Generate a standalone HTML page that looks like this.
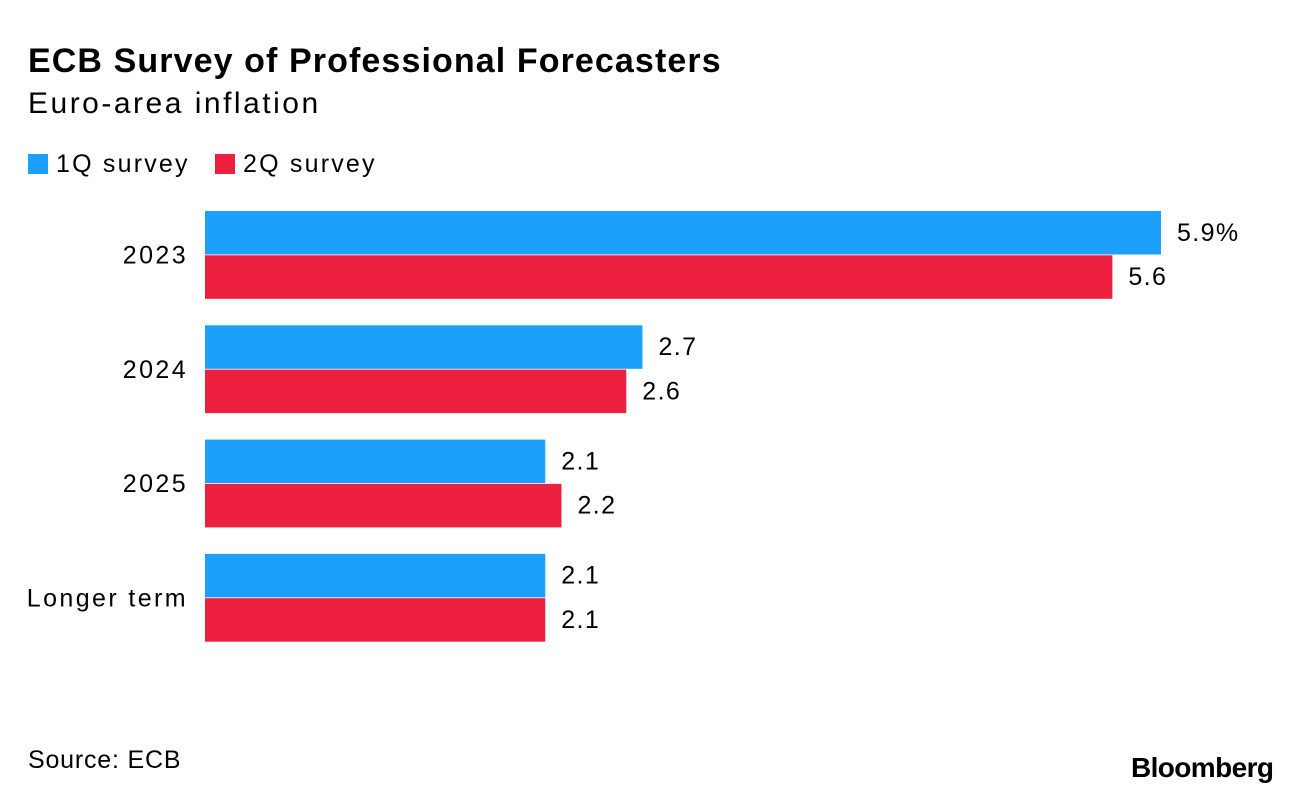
<!DOCTYPE html>
<html><head><meta charset="utf-8"><style>
body{margin:0;background:#fff;font-family:"Liberation Sans",Arial,sans-serif;}
#wrap{position:relative;width:1296px;height:800px;overflow:hidden;}
.t{position:absolute;white-space:nowrap;color:#000;}
</style></head><body>
<div id="wrap">
<div class="t" style="left:28px;top:42px;font-size:34px;font-weight:bold;letter-spacing:1.1px">ECB Survey of Professional Forecasters</div>
<div class="t" style="left:28px;top:87px;font-size:30px;letter-spacing:2.5px">Euro-area inflation</div>
<div class="t" style="left:28px;top:150px;font-size:25px;letter-spacing:2.2px"><span style="display:inline-block;width:20px;height:20px;background:#1da0fb;vertical-align:-2px;margin-right:8px"></span>1Q survey</div>
<div class="t" style="left:215px;top:150px;font-size:25px;letter-spacing:2.2px"><span style="display:inline-block;width:20px;height:20px;background:#ee203f;vertical-align:-2px;margin-right:8px"></span>2Q survey</div>
<svg id="plot" width="1296" height="800" style="position:absolute;left:0;top:0"></svg>
<div class="t" style="left:28px;top:746px;font-size:25px;letter-spacing:0.8px">Source: ECB</div>
<div class="t" style="left:1131px;top:752px;font-size:28px;font-weight:bold;letter-spacing:-0.6px">Bloomberg</div>
</div>
<script>
const categories=["2023","2024","2025","Longer term"];
const q1Values=[5.9,2.7,2.1,2.1];
const q2Values=[5.6,2.6,2.2,2.1];
const valueLabelsQ1=["5.9%","2.7","2.1","2.1"];
const valueLabelsQ2=["5.6","2.6","2.2","2.1"];
const svg=document.getElementById('plot');
const NS='http://www.w3.org/2000/svg';
const x0=205,scale=162.03;
function xPos(v){return x0+v*scale;}
function yPos(i){return 211+i*114.3;}
const barH=43.5;
categories.forEach((c,i)=>{
  const y=yPos(i);
  const lab=document.createElementNS(NS,'text');
  
  
  lab.setAttribute('x',188);lab.setAttribute('y',y+barH+9);
  lab.setAttribute('text-anchor','end');lab.setAttribute('font-size','25');
  lab.setAttribute('letter-spacing','2.4');
  lab.textContent=c;svg.appendChild(lab);
  [[q1Values,valueLabelsQ1,'#1da0fb',0],[q2Values,valueLabelsQ2,'#ee203f',1]].forEach(([vals,labs,col,k])=>{
    const r=document.createElementNS(NS,'rect');
    
    
    const yy=y+k*(barH+0.8);
    r.setAttribute('x',x0);r.setAttribute('y',yy);
    r.setAttribute('width',xPos(vals[i])-x0);r.setAttribute('height',barH);
    r.setAttribute('fill',col);svg.appendChild(r);
    const t=document.createElementNS(NS,'text');
    
    
    t.setAttribute('x',xPos(vals[i])+16);t.setAttribute('y',yy+barH/2+8);
    t.setAttribute('font-size','25');t.setAttribute('letter-spacing','1.4');
    t.textContent=labs[i];svg.appendChild(t);
  });
});
</script>
</body></html>
